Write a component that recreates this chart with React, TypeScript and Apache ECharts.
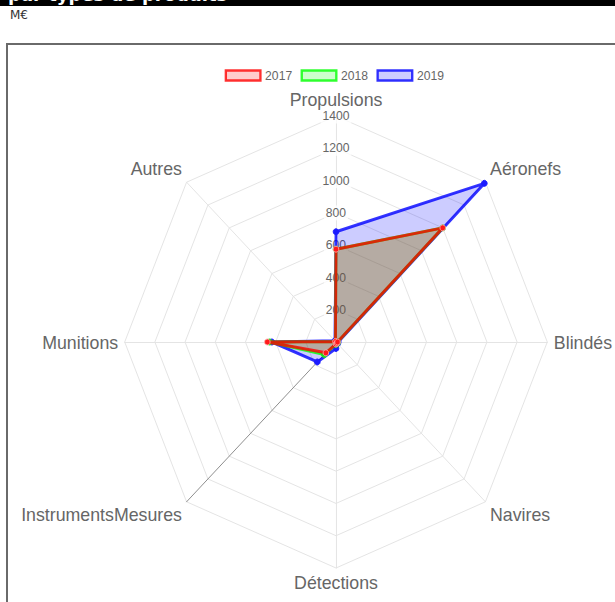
import React, { useEffect, useRef } from 'react';
import * as echarts from 'echarts';

// Categories in the reference's clockwise order, starting at the top
const categories = ['Propulsions', 'Aéronefs', 'Blindés', 'Navires', 'Détections', 'InstrumentsMesures', 'Munitions', 'Autres'];
const values2017 = [575, 1000, 10, 10, 12, 95, 455, 5];
const values2018 = [575, 1000, 10, 12, 15, 110, 440, 5];
const values2019 = [683, 1390, 15, 15, 40, 175, 425, 10];
const years = ['2017', '2018', '2019'];
const axisMax = 1400;
const splitCount = 7;

// ECharts places radar indicators counter-clockwise; reorder to keep the reference's clockwise layout
const ccw = <T,>(arr: T[]): T[] => [arr[0], ...arr.slice(1).reverse()];

const lineColors = ['rgba(255,0,0,0.8)', 'rgba(0,255,0,0.8)', 'rgba(0,0,255,0.8)'];
const fillColors = ['rgba(255,0,0,0.2)', 'rgba(0,255,0,0.2)', 'rgba(0,0,255,0.2)'];
const pointColors = ['#ff1a1a', '#22dd22', '#1a1aff'];

// the reference picture is slightly narrower than it is tall
const SX = 0.935;
const OFFSET = 30;

export default function App() {
  const ref = useRef<HTMLDivElement>(null);

  useEffect(() => {
    document.body.style.margin = '0';
    if (!ref.current) return;
    const chart = echarts.init(ref.current, undefined, { renderer: 'svg' });
    const font = '"Liberation Sans", Arial, Helvetica, sans-serif';

    const upperDiag = ['Aéronefs', 'Autres'];
    const lowerDiag = ['Navires', 'InstrumentsMesures'];
    const indicator = ccw(categories).map((name) => {
      const ind: any = { name, min: 0, max: axisMax };
      if (name === 'Propulsions') ind.axisLabel = { show: true };
      if (name === 'InstrumentsMesures') ind.axisLine = { lineStyle: { color: '#8a8a8a' } };
      return ind;
    });

    const allValues = [values2017, values2018, values2019];
    // draw 2019 first (bottom) and 2017 last (top), like the reference
    const series: any[] = [2, 1, 0].map((i) => ({
      type: 'radar',
      name: years[i],
      z: 2 + (2 - i),
      symbol: 'circle',
      symbolSize: 6,
      lineStyle: { color: lineColors[i], width: 3 },
      areaStyle: { color: fillColors[i], opacity: 1 },
      itemStyle: {
        color: pointColors[i],
        borderColor: i === 0 ? 'rgba(255,170,170,0.9)' : pointColors[i],
        borderWidth: 1,
      },
      data: [{ name: years[i], value: ccw(allValues[i]) }],
    }));

    const cx = 336 + OFFSET;
    const nameStyle = { color: '#666', fontSize: 19, fontFamily: font };
    chart.setOption({
      animation: false,
      legend: {
        left: cx + (220 - 336) / SX,
        top: 64,
        icon: 'rect',
        itemWidth: 37,
        itemHeight: 10,
        itemGap: 9,
        textStyle: { color: '#666', fontSize: 13, fontFamily: font },
        data: years.map((y, i) => ({
          name: y,
          itemStyle: { color: fillColors[i], borderColor: lineColors[i], borderWidth: 2.5 },
        })),
      },
      radar: {
        center: [cx, 342],
        radius: 226,
        startAngle: 90,
        shape: 'polygon',
        splitNumber: splitCount,
        nameGap: 7,
        axisName: {
          ...nameStyle,
          formatter: (name: string) => {
            if (upperDiag.includes(name)) return `{t|${name}}\n{gu| }`;
            if (lowerDiag.includes(name)) return `{gl| }\n{t|${name}}`;
            if (name === 'Détections') return `{d|${name}}`;
            return `{t|${name}}`;
          },
          rich: {
            t: { ...nameStyle, lineHeight: 20 },
            d: { ...nameStyle, lineHeight: 14 },
            gu: { fontSize: 4, lineHeight: 17, height: 17 },
            gl: { fontSize: 4, lineHeight: 16, height: 16 },
          },
        },
        splitLine: { lineStyle: { color: '#e3e3e3', width: 1 } },
        splitArea: { show: false },
        axisLine: { lineStyle: { color: '#e3e3e3', width: 1 } },
        axisTick: { show: false },
        axisLabel: {
          show: false,
          showMinLabel: false,
          margin: 0,
          align: 'center',
          verticalAlign: 'middle',
          color: '#666',
          fontSize: 13,
          fontFamily: font,
          backgroundColor: 'rgba(255,255,255,0.75)',
          padding: [1, 2],
          formatter: (v: number) => String(v),
        },
        indicator,
      },
      series,
    });
    return () => chart.dispose();
  }, []);

  return (
    <div style={{ position: 'relative', width: 615, height: 602, overflow: 'hidden', background: '#fff' }}>
      <div
        style={{
          position: 'absolute', left: 0, top: 0, width: 615, height: 6, background: '#000', overflow: 'hidden',
        }}
      >
        <div
          style={{
            position: 'absolute', left: 8, top: -15, color: '#fff', fontWeight: 'bold',
            fontFamily: '"DejaVu Sans", Verdana, sans-serif', fontSize: 18, lineHeight: '20px', whiteSpace: 'nowrap',
          }}
        >
          par types de produits
        </div>
      </div>
      <div
        style={{
          position: 'absolute', left: 10, top: 8, color: '#333',
          fontFamily: '"DejaVu Sans", Verdana, sans-serif', fontSize: 12, lineHeight: '14px',
        }}
      >
        M€
      </div>
      <div
        style={{
          position: 'absolute', left: 6, top: 43, width: 700, height: 700,
          border: '2px solid #6a6a6a', boxSizing: 'border-box',
        }}
      />
      <div
        ref={ref}
        style={{
          position: 'absolute', left: -OFFSET, top: 0, width: 615 + 2 * OFFSET + 20, height: 602,
          transform: `scaleX(${SX})`, transformOrigin: `${336 + OFFSET}px 0px`,
        }}
      />
    </div>
  );
}
